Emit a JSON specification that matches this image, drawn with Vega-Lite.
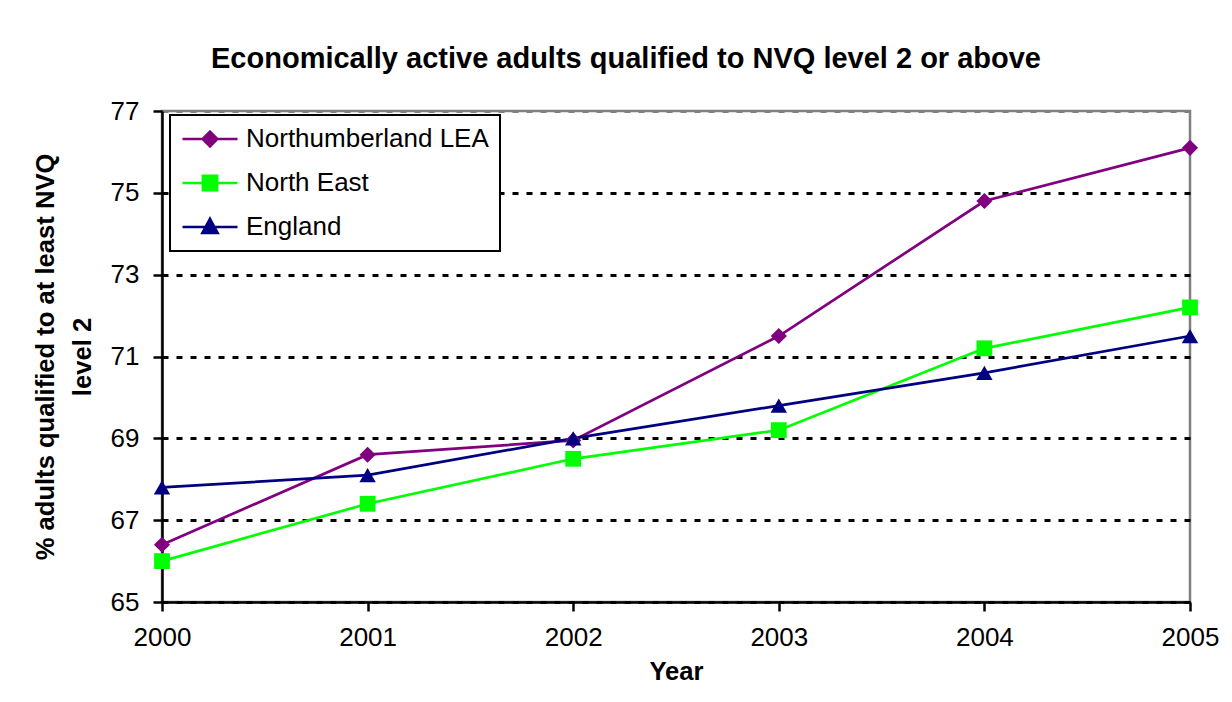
{
  "$schema": "https://vega.github.io/schema/vega-lite/v6.json",
  "autosize": "none",
  "width": 1028,
  "height": 491,
  "padding": {"left": 162, "top": 111, "right": 42, "bottom": 100},
  "background": "white",
  "title": {
    "text": "Economically active adults qualified to NVQ level 2 or above",
    "font": "Liberation Sans",
    "fontSize": 29,
    "fontWeight": "bold",
    "color": "black",
    "anchor": "middle",
    "dx": -50,
    "offset": 24
  },
  "data": {
    "values": [
      {"year": "2000", "series": "Northumberland LEA", "value": 66.4},
      {"year": "2001", "series": "Northumberland LEA", "value": 68.6},
      {"year": "2002", "series": "Northumberland LEA", "value": 68.95},
      {"year": "2003", "series": "Northumberland LEA", "value": 71.5},
      {"year": "2004", "series": "Northumberland LEA", "value": 74.8},
      {"year": "2005", "series": "Northumberland LEA", "value": 76.1},
      {"year": "2000", "series": "North East", "value": 66.0},
      {"year": "2001", "series": "North East", "value": 67.4},
      {"year": "2002", "series": "North East", "value": 68.5},
      {"year": "2003", "series": "North East", "value": 69.2},
      {"year": "2004", "series": "North East", "value": 71.2},
      {"year": "2005", "series": "North East", "value": 72.2},
      {"year": "2000", "series": "England", "value": 67.8},
      {"year": "2001", "series": "England", "value": 68.1},
      {"year": "2002", "series": "England", "value": 69.0},
      {"year": "2003", "series": "England", "value": 69.8},
      {"year": "2004", "series": "England", "value": 70.6},
      {"year": "2005", "series": "England", "value": 71.5}
    ]
  },
  "encoding": {
    "x": {
      "field": "year",
      "type": "ordinal",
      "scale": {"type": "point", "padding": 0},
      "axis": {
        "title": "Year",
        "labelAngle": 0,
        "grid": false,
        "labelPadding": 13,
        "titlePadding": 9
      }
    },
    "y": {
      "field": "value",
      "type": "quantitative",
      "scale": {"domain": [65, 77], "nice": false, "zero": false},
      "axis": {
        "title": ["% adults qualified to at least NVQ", "level 2"],
        "values": [65, 67, 69, 71, 73, 75, 77],
        "grid": true,
        "gridColor": {"condition": {"test": "datum.value === 77", "value": "#808080"}, "value": "black"},
        "labelPadding": 14,
        "titlePadding": 15,
        "titleLineHeight": 37
      }
    },
    "color": {
      "field": "series",
      "type": "nominal",
      "scale": {"domain": ["Northumberland LEA", "North East", "England"], "range": ["#800080", "#00FF00", "#000080"]},
      "legend": {
        "title": null,
        "orient": "none",
        "legendX": 8,
        "legendY": 4,
        "padding": 11,
        "strokeColor": "black",
        "fillColor": "white",
        "symbolSize": 3025,
        "symbolStrokeWidth": 2.5,
        "symbolOpacity": 1,
        "clipHeight": 26,
        "rowPadding": 18,
        "labelOffset": 7,
        "labelFontSize": 26,
        "labelFont": "Liberation Sans",
        "labelColor": "black",
        "labelLimit": 400,
        "encode": {
          "symbols": {
            "update": {
              "shape": {"scale": "shape", "field": "value"},
              "stroke": {"scale": "color", "field": "value"},
              "fill": {"scale": "color", "field": "value"},
              "strokeWidth": {"value": 2.5},
              "opacity": {"value": 1}
            }
          }
        }
      }
    }
  },
  "layer": [
    {
      "mark": {"type": "line", "strokeWidth": 2.7},
      "encoding": {
        "detail": {"field": "series"}
      }
    },
    {
      "mark": {"type": "point", "filled": true, "opacity": 1},
      "encoding": {
        "shape": {
          "condition": [
            {"test": "datum.series === 'North East'", "value": "square"},
            {"test": "datum.series === 'England'", "value": "triangle-up"}
          ],
          "value": "diamond"
        },
        "size": {
          "condition": [
            {"test": "datum.series === 'North East'", "value": 250},
            {"test": "datum.series === 'England'", "value": 270}
          ],
          "value": 260
        }
      }
    },
    {
      "mark": {"type": "point", "filled": true},
      "encoding": {
        "opacity": {"value": 0},
        "shape": {
          "field": "series",
          "type": "nominal",
          "scale": {
            "domain": ["Northumberland LEA", "North East", "England"],
            "range": [
              "M-1,0H1M0,-0.27L0.27,0L0,0.27L-0.27,0Z",
              "M-1,0H1M-0.26,-0.26H0.26V0.26H-0.26Z",
              "M-1,0H1M0,-0.3L0.28,0.22L-0.28,0.22Z"
            ]
          },
          "legend": {"title": null}
        }
      }
    }
  ],
  "config": {
    "font": "Liberation Sans",
    "view": {"stroke": "#808080", "strokeWidth": 2.5},
    "axis": {
      "labelFont": "Liberation Sans",
      "labelFontSize": 26,
      "labelColor": "black",
      "titleFont": "Liberation Sans",
      "titleFontSize": 25.6,
      "titleFontWeight": "bold",
      "titleColor": "black",
      "domainColor": "black",
      "domainWidth": 2.5,
      "tickColor": "black",
      "tickWidth": 2.5,
      "tickSize": 9,
      "gridDash": [6, 8],
      "gridWidth": 3,
      "gridOpacity": 1
    },
    "legend": {"strokeWidth": 2}
  }
}
